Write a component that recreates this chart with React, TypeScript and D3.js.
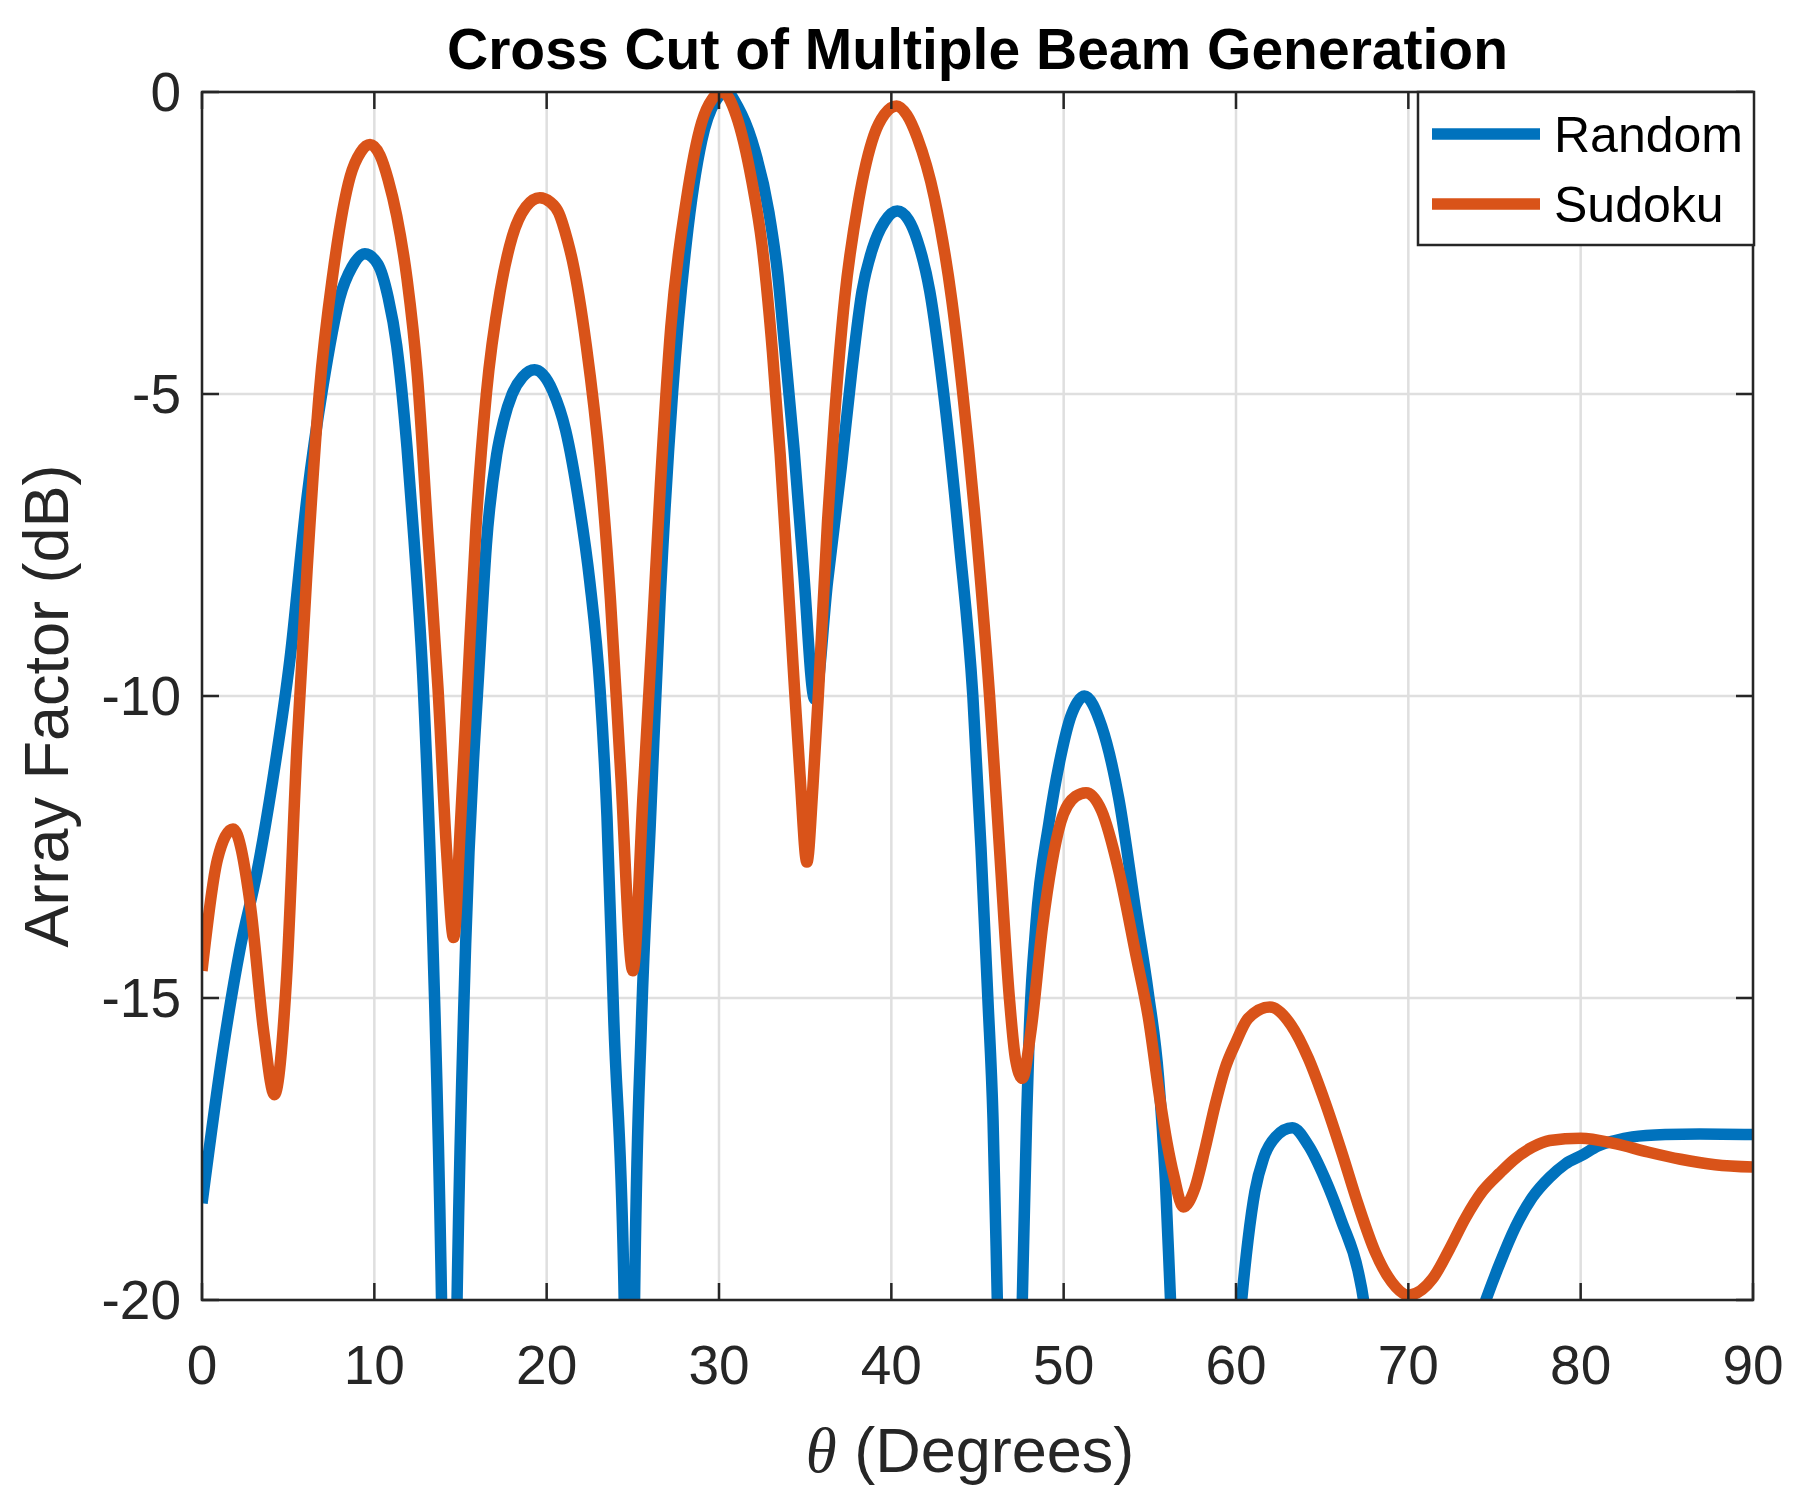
import * as d3 from 'd3';
import React from 'react';

// theta (deg) and array factor (dB); values under -20 only steer the curve into its nulls
const randomTheta = [
  0, 1.25, 2.2, 3.2, 4.1, 5.1, 6.1, 7.0, 8.0, 8.7, 9.45, 10.2, 10.8, 11.3, 11.9, 12.3, 12.85, 13.4,
  13.9, 14.35, 14.8, 15.3, 16.1, 16.5, 17.1, 17.5, 18.0, 18.6, 19.3, 20.35, 21.1, 21.9, 22.5, 23.1,
  23.5, 23.9, 24.5, 24.8, 25.1, 25.5, 26.0, 26.6, 27.3, 28.1, 29.0, 29.8, 30.45, 31.1, 31.9,
  32.9, 33.4, 33.8, 34.35, 34.9, 35.55, 36.3, 37.1, 37.7, 38.3, 38.9, 39.6, 40.35, 41.0, 41.5,
  42.23, 43.0, 43.96, 44.73, 45.2, 45.6, 45.9, 46.15, 46.9, 47.6, 47.85, 48.0, 48.38, 49.15,
  49.83, 50.4, 50.8, 51.2, 52.2, 53.2, 54.2, 54.9, 55.5, 55.9, 56.2, 58.2, 60.33, 60.7, 61.1, 61.6,
  62.3, 63.27, 64.2, 65.16, 66.13, 67.1, 67.4, 67.7, 71.0, 73.9, 74.5, 75.3, 76.2, 77.2, 78.2, 79.1,
  80.1, 81.0, 82.0, 83.0, 84.9, 86.9, 90,
];
const randomDb = [
  -18.4, -15.8, -14.2, -12.9, -11.4, -9.4, -6.7, -4.9, -3.4, -2.9, -2.68, -2.85, -3.4, -4.2, -5.9, -7.4, -9.9, -14.1,
  -20, -30, -20, -14.1, -9.4, -7.5, -6.0, -5.45, -5.0, -4.72, -4.6, -4.95, -5.6, -6.85, -8.1, -9.9,
  -12.0, -15.4, -20, -30, -20, -15.4, -12.2, -8.3, -5.0, -2.5, -0.8, -0.15, 0, -0.25, -0.8,
  -2.0, -3.0, -4.2, -5.9, -7.9, -10.05, -8.1, -6.2, -4.63, -3.3, -2.6, -2.15, -1.97, -2.12, -2.45,
  -3.3, -4.9, -7.5, -10.0, -12.5, -15.0, -17.0, -20, -30, -20, -17.0, -15.6, -13.82, -12.09,
  -11.0, -10.35, -10.1, -10.0, -10.5, -11.7, -13.6, -14.9, -16.3, -18.0, -20, -30, -20, -19.0, -18.2, -17.65,
  -17.3, -17.15, -17.44, -17.99, -18.7, -19.54, -20, -20.8, -26, -20.5, -20, -19.4, -18.8, -18.3, -17.97, -17.75,
  -17.6, -17.45, -17.36, -17.3, -17.26, -17.25, -17.26,
];

const sudokuTheta = [
  0, 0.9, 1.8, 2.8, 3.6, 4.2, 4.9, 5.5, 6.1, 6.8, 7.6, 8.6, 9.2, 9.75, 10.33, 10.8, 11.3, 11.9,
  12.5, 13.1, 13.7, 14.2, 14.6, 15.0, 15.4, 15.9, 16.5, 17.3, 18.0, 18.8, 19.6, 20.2, 20.7, 21.2,
  21.5, 22.3, 23.1, 23.7, 24.3, 25.0, 25.6, 26.14, 26.6, 27.2, 28.1, 29.0, 29.6, 30.2, 31.0, 31.9,
  32.5, 33.1, 33.55, 33.9, 34.3, 34.7, 35.1, 35.45, 35.8, 36.3, 36.7, 37.3, 38.1, 39.0, 39.6,
  40.3, 40.9, 41.5, 42.5, 43.5, 44.15, 45.0, 45.7, 46.27, 46.85, 47.2, 47.6, 48.1, 48.77, 49.83,
  50.7, 51.3, 52.2, 53.2, 54.2, 54.9, 55.6, 56.0, 56.4, 56.94, 57.6, 58.2, 58.78, 59.36, 60.0,
  60.7, 61.97, 63.2, 64.2, 65.16, 66.13, 67.1, 68.07, 69.03, 70.0, 71.4, 72.4, 73.3, 74.3, 75.3,
  76.2, 77.2, 78.2, 80.0, 82.0, 83.9, 85.8, 87.8, 90,
];
const sudokuDb = [
  -14.55, -12.7, -12.2, -13.45, -15.6, -16.6, -14.7, -10.9, -7.9, -5.0, -3.0, -1.4, -1.0, -0.87, -1.05, -1.45, -2.05, -3.1,
  -4.7, -7.3, -9.9, -12.6, -14.0, -12.1, -9.9, -7.2, -5.0, -3.3, -2.4, -1.9, -1.75, -1.82, -2.0, -2.45,
  -2.8, -4.2, -6.2, -8.4, -11.3, -14.55, -11.6, -8.9, -6.5, -3.9, -1.8, -0.5, -0.12, 0, -0.39, -1.47,
  -2.54, -4.3, -6.0, -7.6, -9.5, -11.3, -12.75, -11.5, -9.8, -7.1, -5.4, -3.4, -1.8, -0.71, -0.37,
  -0.23, -0.38, -0.75, -1.75, -3.43, -5.0, -7.5, -10.0, -12.5, -15.0, -16.0, -16.33, -15.55, -13.82, -12.09,
  -11.66, -11.6, -11.9, -12.9, -14.3, -15.3, -16.7, -17.4, -17.95, -18.46, -18.16, -17.5, -16.78, -16.17, -15.73,
  -15.34, -15.15, -15.45, -16.0, -16.72, -17.55, -18.43, -19.2, -19.7, -19.92, -19.65, -19.15, -18.65, -18.2, -17.9,
  -17.66, -17.47, -17.36, -17.32, -17.41, -17.55, -17.67, -17.76, -17.8,
];

const seriesNames = ['Random', 'Sudoku'];
const seriesColors = ['#0072BD', '#D95319'];
const xTicks = [0, 10, 20, 30, 40, 50, 60, 70, 80, 90];
const yTicks = [0, -5, -10, -15, -20];

const W = 1801;
const H = 1504;
const m = { left: 202, right: 1753, top: 92, bottom: 1300 };
const axisColor = '#262626';
const gridColor = '#dfdfdf';
const font = '"Liberation Sans", Arial, Helvetica, sans-serif';

export default function App() {
  const x = d3.scaleLinear().domain([0, 90]).range([m.left, m.right]);
  const y = d3.scaleLinear().domain([-20, 0]).range([m.bottom, m.top]);

  const line = d3
    .line<[number, number]>()
    .x((d) => x(d[0]))
    .y((d) => y(d[1]))
    .curve(d3.curveMonotoneX);

  const series = [
    randomTheta.map((t, i) => [t, randomDb[i]] as [number, number]),
    sudokuTheta.map((t, i) => [t, sudokuDb[i]] as [number, number]),
  ];

  const tickLen = 17;
  const legend = { x0: 1418, x1: 1754, y0: 92, y1: 245 };
  const legendRows = [134, 204];

  return (
    <svg
      width={W}
      height={H}
      style={{ position: 'absolute', left: 0, top: 0, background: '#fff' }}
      fontFamily={font}
    >
      <rect width={W} height={H} fill="#fff" />
      <defs>
        <clipPath id="plot">
          <rect x={m.left} y={m.top} width={m.right - m.left} height={m.bottom - m.top} />
        </clipPath>
      </defs>

      {/* grid */}
      {xTicks.map((t) => (
        <line key={'gx' + t} x1={x(t)} x2={x(t)} y1={m.top} y2={m.bottom} stroke={gridColor} strokeWidth={2.5} />
      ))}
      {yTicks.map((t) => (
        <line key={'gy' + t} x1={m.left} x2={m.right} y1={y(t)} y2={y(t)} stroke={gridColor} strokeWidth={2.5} />
      ))}

      {/* curves */}
      <g clipPath="url(#plot)">
        {series.map((s, i) => (
          <path
            key={seriesNames[i]}
            d={line(s) ?? ''}
            fill="none"
            stroke={seriesColors[i]}
            strokeWidth={11.5}
            strokeLinejoin="round"
          />
        ))}
      </g>

      {/* box and ticks */}
      <rect
        x={m.left}
        y={m.top}
        width={m.right - m.left}
        height={m.bottom - m.top}
        fill="none"
        stroke={axisColor}
        strokeWidth={2.5}
      />
      {xTicks.map((t) => (
        <g key={'tx' + t} stroke={axisColor} strokeWidth={2.5}>
          <line x1={x(t)} x2={x(t)} y1={m.bottom} y2={m.bottom - tickLen} />
          <line x1={x(t)} x2={x(t)} y1={m.top} y2={m.top + tickLen} />
        </g>
      ))}
      {yTicks.map((t) => (
        <g key={'ty' + t} stroke={axisColor} strokeWidth={2.5}>
          <line x1={m.left} x2={m.left + tickLen} y1={y(t)} y2={y(t)} />
          <line x1={m.right} x2={m.right - tickLen} y1={y(t)} y2={y(t)} />
        </g>
      ))}

      {/* tick labels */}
      {xTicks.map((t) => (
        <text key={'lx' + t} x={x(t)} y={1384} textAnchor="middle" fontSize={55} fill={axisColor}>
          {t}
        </text>
      ))}
      {yTicks.map((t) => (
        <text key={'ly' + t} x={181} y={y(t) + 19} textAnchor="end" fontSize={55} fill={axisColor}>
          {t}
        </text>
      ))}

      {/* axis labels */}
      <text x={970} y={1472} textAnchor="middle" fontSize={63} fill={axisColor}>
        <tspan fontFamily='"Liberation Serif", "DejaVu Serif", serif' fontStyle="italic">θ</tspan>
        <tspan> (Degrees)</tspan>
      </text>
      <text
        transform={`translate(68, 706) rotate(-90)`}
        textAnchor="middle"
        fontSize={63}
        fill={axisColor}
      >
        Array Factor (dB)
      </text>

      {/* title */}
      <text x={(m.left + m.right) / 2} y={69} textAnchor="middle" fontSize={57} fontWeight="bold" fill="#000">
        Cross Cut of Multiple Beam Generation
      </text>

      {/* legend */}
      <rect
        x={legend.x0}
        y={legend.y0}
        width={legend.x1 - legend.x0}
        height={legend.y1 - legend.y0}
        fill="#fff"
        stroke={axisColor}
        strokeWidth={2.5}
      />
      {seriesNames.map((name, i) => (
        <g key={'lg' + name}>
          <line x1={1432} x2={1540} y1={legendRows[i]} y2={legendRows[i]} stroke={seriesColors[i]} strokeWidth={11.5} />
          <text x={1554} y={legendRows[i] + 18} fontSize={50} fill="#000">
            {name}
          </text>
        </g>
      ))}
    </svg>
  );
}
